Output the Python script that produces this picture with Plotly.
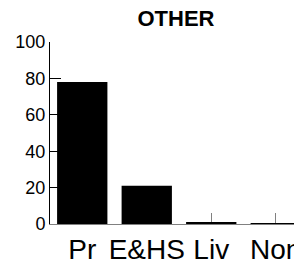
import plotly.graph_objects as go

categories = ["Pr", "E&HS", "Liv", "Non"]
values = [78, 21, 1, 0.4]
y_ticks = [0, 20, 40, 60, 80, 100]
title_text = "OTHER"

font_family = "Liberation Sans, Arial, sans-serif"

# the page body has an 8px default margin; compensate so the chart fills the 302x265 window
W, H = 294, 257

fig = go.Figure(
    go.Bar(
        x=categories,
        y=values,
        marker=dict(color="black", line=dict(width=0)),
        width=0.78,
    )
)

fig.update_layout(
    width=W,
    height=H,
    margin=dict(l=42, r=0, t=34, b=41),
    paper_bgcolor="white",
    plot_bgcolor="white",
    showlegend=False,
    font=dict(family=font_family, color="black"),
    title=dict(
        text="<b>" + title_text + "</b>",
        x=0.5,
        xref="paper",
        xanchor="center",
        y=1 - 10 / H,
        yref="container",
        yanchor="middle",
        font=dict(size=22, family=font_family, color="black"),
    ),
)

fig.update_xaxes(
    range=[-0.5, 3.5 - 6 / 64.5],
    showgrid=False,
    zeroline=False,
    showline=True,
    linecolor="#808080",
    linewidth=1,
    ticks="inside",
    ticklen=11,
    tickcolor="#808080",
    tickfont=dict(size=28, family=font_family, color="black"),
    layer="below traces",
    automargin=False,
)

fig.update_yaxes(
    range=[0, 100],
    tickvals=y_ticks,
    showgrid=False,
    zeroline=False,
    showline=True,
    linecolor="black",
    linewidth=1,
    ticks="inside",
    ticklen=11,
    tickcolor="black",
    tickfont=dict(size=18, family=font_family, color="black"),
    automargin=False,
)

fig.write_html("out.html")
